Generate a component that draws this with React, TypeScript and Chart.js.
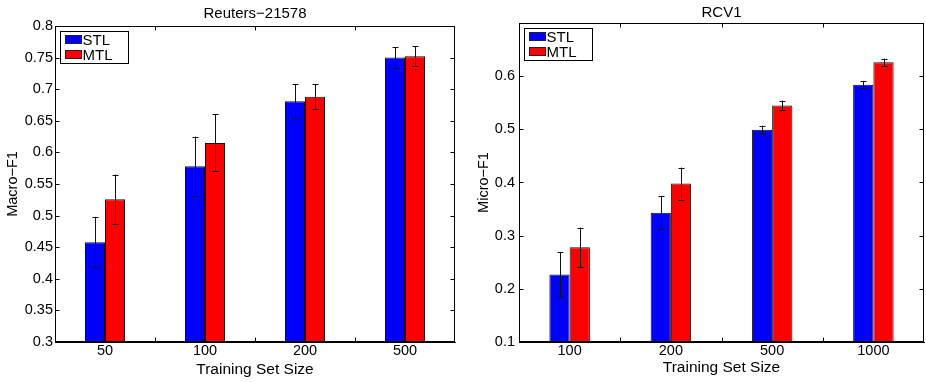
import React, { useEffect, useRef } from 'react';
import { Chart, registerables } from 'chart.js';

Chart.register(...registerables);

// ---- Data ----
const reutersSizes = ['50', '100', '200', '500'];
const reutersSTL = [0.458, 0.578, 0.681, 0.750];
const reutersSTLErr = [0.040, 0.047, 0.027, 0.016];
const reutersMTL = [0.526, 0.615, 0.688, 0.752];
const reutersMTLErr = [0.039, 0.045, 0.020, 0.016];

const rcvSizes = ['100', '200', '500', '1000'];
const rcvSTL = [0.227, 0.343, 0.499, 0.584];
const rcvSTLErr = [0.042, 0.031, 0.008, 0.007];
const rcvMTL = [0.278, 0.398, 0.545, 0.626];
const rcvMTLErr = [0.037, 0.030, 0.009, 0.007];

const seriesNames = ['STL', 'MTL'];
const seriesColors = ['#0000ff', '#ff0000'];

const FONT = '"Liberation Sans", Arial, Helvetica, sans-serif';
Chart.defaults.font.family = FONT;
Chart.defaults.color = '#000';

type Cfg = {
  labels: string[];
  values: number[][];
  errors: number[][];
  min: number;
  max: number;
  step: number;
  hideLabels: number[];
  title: string;
  yTitle: string;
  L: number; R: number; T: number; B: number;
  W: number; H: number;
  titleCenter: number;
  xTitleCenter: number;
  yTitleCenter: number;
  yTickPad: number;
};

const decorPlugin = {
  id: 'matlabDecor',
  afterDatasetsDraw(chart: any, _args: any, opts: any) {
    const ctx = chart.ctx;
    const ys = chart.scales.y;
    const xs = chart.scales.x;
    const area = chart.chartArea;
    const errors: number[][] = opts.errors;
    // error bars
    ctx.save();
    ctx.strokeStyle = '#111';
    ctx.lineWidth = 1;
    chart.data.datasets.forEach((ds: any, di: number) => {
      const meta = chart.getDatasetMeta(di);
      meta.data.forEach((el: any, i: number) => {
        const v = ds.data[i];
        const e = errors[di][i];
        const x = Math.round(el.x) + 0.5;
        const y1 = ys.getPixelForValue(v + e);
        const y2 = ys.getPixelForValue(v - e);
        ctx.beginPath();
        ctx.moveTo(x, y1);
        ctx.lineTo(x, y2);
        ctx.moveTo(x - 3, Math.round(y1) + 0.5);
        ctx.lineTo(x + 3, Math.round(y1) + 0.5);
        ctx.moveTo(x - 3, Math.round(y2) + 0.5);
        ctx.lineTo(x + 3, Math.round(y2) + 0.5);
        ctx.stroke();
      });
    });
    // frame
    ctx.strokeStyle = '#000';
    ctx.lineWidth = 1;
    const l = Math.round(area.left) + 0.5;
    const r = Math.round(area.right) - 0.5;
    const t = Math.round(area.top) + 0.5;
    const b = Math.round(area.bottom) - 0.5;
    ctx.strokeRect(l, t, r - l, b - t);
    // inward ticks
    const tl = 4;
    ctx.beginPath();
    ys.ticks.forEach((tk: any) => {
      const y = Math.round(ys.getPixelForValue(tk.value)) + 0.5;
      ctx.moveTo(l, y); ctx.lineTo(l + tl, y);
      ctx.moveTo(r, y); ctx.lineTo(r - tl, y);
    });
    const n = chart.data.labels.length;
    for (let i = 0; i < n - 1; i++) {
      const x = Math.round((xs.getPixelForValue(i) + xs.getPixelForValue(i + 1)) / 2) + 0.5;
      ctx.moveTo(x, b); ctx.lineTo(x, b - tl);
      ctx.moveTo(x, t); ctx.lineTo(x, t + tl);
    }
    ctx.stroke();
    // legend box
    const lx = Math.round(area.left) + 5.5;
    const ly = Math.round(area.top) + 5.5;
    const lw = 68, lh = 32;
    ctx.fillStyle = '#fff';
    ctx.fillRect(lx, ly, lw, lh);
    ctx.strokeRect(lx, ly, lw, lh);
    ctx.font = '15px ' + FONT;
    ctx.textBaseline = 'middle';
    ctx.textAlign = 'left';
    chart.data.datasets.forEach((ds: any, di: number) => {
      const cy = ly + 8 + di * 15;
      ctx.fillStyle = ds.backgroundColor;
      ctx.fillRect(lx + 5, cy - 4, 16, 8);
      ctx.strokeStyle = '#222';
      ctx.strokeRect(lx + 5, cy - 4, 16, 8);
      ctx.fillStyle = '#000';
      ctx.fillText(ds.label, lx + 22, cy + 1);
    });
    ctx.restore();
  },
};

function BarPanel({ cfg }: { cfg: Cfg }) {
  const ref = useRef<HTMLCanvasElement | null>(null);
  useEffect(() => {
    if (!ref.current) return;
    const c = cfg;
    const tlh = 15 * 1.2;
    const xlh = 15.5 * 1.2;
    const ylh = 14.5 * 1.2;
    const chart = new Chart(ref.current, {
      type: 'bar',
      data: {
        labels: c.labels,
        datasets: c.values.map((vals, i) => ({
          label: seriesNames[i],
          data: vals,
          backgroundColor: seriesColors[i],
          borderColor: '#111',
          borderWidth: 1,
          borderSkipped: false,
          categoryPercentage: 0.4,
          barPercentage: 1.0,
        })),
      },
      options: {
        responsive: false,
        animation: false,
        layout: { padding: { left: 0, right: c.W - c.R, top: 0, bottom: 0 } },
        plugins: {
          legend: { display: false },
          tooltip: { enabled: false },
          title: {
            display: true,
            text: c.title,
            fullSize: false,
            color: '#000',
            font: { size: 15, weight: 'normal', family: FONT },
            padding: { top: c.titleCenter - tlh / 2, bottom: c.T - tlh - (c.titleCenter - tlh / 2) },
          },
          matlabDecor: { errors: c.errors },
        } as any,
        scales: {
          x: {
            grid: { display: false, drawTicks: false, tickLength: 0 },
            border: { display: true, color: '#000', width: 1 },
            ticks: { font: { size: 14.5 }, color: '#000', padding: 0, maxRotation: 0 },
            title: {
              display: true,
              text: 'Training Set Size',
              color: '#000',
              font: { size: 15.5 },
              padding: { top: 0, bottom: c.H - c.xTitleCenter - xlh / 2 },
            },
            afterFit: (s: any) => { s.height = c.H - c.B; },
          },
          y: {
            min: c.min,
            max: c.max,
            grid: { display: false, drawTicks: false, tickLength: 0 },
            border: { display: true, color: '#000', width: 1 },
            ticks: {
              stepSize: c.step,
              font: { size: 14.5 },
              color: '#000',
              padding: c.yTickPad,
              callback: (v: any) => {
                const n = Math.round(Number(v) * 100) / 100;
                if (c.hideLabels.some((h) => Math.abs(h - n) < 1e-9)) return '';
                return String(n);
              },
            },
            title: {
              display: true,
              text: c.yTitle,
              color: '#000',
              font: { size: 14.5 },
              padding: { top: c.yTitleCenter - ylh / 2, bottom: 0 },
            },
            afterFit: (s: any) => { s.width = c.L; },
          },
        },
      } as any,
      plugins: [decorPlugin as any],
    });
    return () => chart.destroy();
  }, [cfg]);
  return <canvas ref={ref} width={cfg.W} height={cfg.H} style={{ display: 'block', width: cfg.W, height: cfg.H }} />;
}

const leftCfg: Cfg = {
  labels: reutersSizes,
  values: [reutersSTL, reutersMTL],
  errors: [reutersSTLErr, reutersMTLErr],
  min: 0.3, max: 0.8, step: 0.05, hideLabels: [],
  title: 'Reuters−21578', yTitle: 'Macro−F1',
  L: 55, R: 455, T: 26, B: 342, W: 463, H: 382,
  titleCenter: 14, xTitleCenter: 370, yTitleCenter: 13.3, yTickPad: 2,
};

const rightCfg: Cfg = {
  labels: rcvSizes,
  values: [rcvSTL, rcvMTL],
  errors: [rcvSTLErr, rcvMTLErr],
  min: 0.1, max: 0.7, step: 0.1, hideLabels: [0.7],
  title: 'RCV1', yTitle: 'Micro−F1',
  L: 56, R: 461, T: 23, B: 342, W: 463, H: 382,
  titleCenter: 12.7, xTitleCenter: 368, yTitleCenter: 21.2, yTickPad: 4,
};

export default function App() {
  return (
    <div style={{ position: 'fixed', left: 0, top: 0, width: 926, height: 382, background: '#fff', display: 'flex' }}>
      <BarPanel cfg={leftCfg} />
      <BarPanel cfg={rightCfg} />
    </div>
  );
}
